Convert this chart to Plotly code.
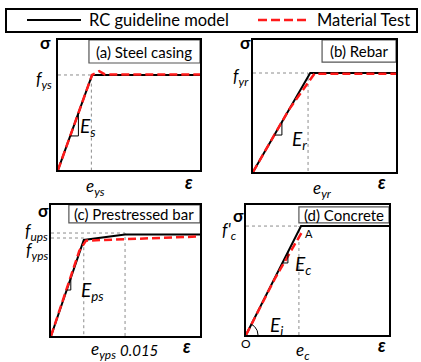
import plotly.graph_objects as go
import numpy as np

W, H = 421, 362
FONT = "Lato"
RED = "#ff1a1a"

# ---------------- data (normalised strain / stress of each schematic) ----------------
# (a) Steel casing
a_model_x = [0, 0.24, 1.0]
a_model_y = [0, 0.731, 0.731]
a_test_x = [0, 0.24, 0.29, 0.33, 1.0]
a_test_y = [0, 0.731, 0.76, 0.735, 0.735]
# (b) Rebar
b_model_x = [0, 0.40, 1.0]
b_model_y = [0, 0.75, 0.75]
b_test_x = [0, 0.25, 0.43, 1.0]
b_test_y = [0, 0.47, 0.745, 0.745]
# (c) Prestressed bar
c_model_x = [0, 0.22, 0.497, 1.0]
c_model_y = [0, 0.733, 0.775, 0.775]
c_test_x = [0, 0.19, 0.235, 1.0]
c_test_y = [0, 0.65, 0.728, 0.76]
# (d) Concrete
d_model_x = [0, 0.385, 1.0]
d_model_y = [0, 0.838, 0.838]
d_test_x = [0, 0.2, 0.39]
d_test_y = [0, 0.43, 0.79]

# characteristic points (strain, stress)
a_ey, a_fy = 0.235, 0.731
b_ey, b_fy = 0.385, 0.75
c_ey, c_fy, c_e15, c_fu = 0.22, 0.748, 0.497, 0.786
d_ec, d_fc = 0.37, 0.838

# slope triangle stress levels (bottom, top)
a_tri = (0.262, 0.438)
b_tri = (0.28, 0.379)
c_tri = (0.351, 0.443)
d_tri = (0.554, 0.638)

titles = ["(a) Steel casing", "(b) Rebar", "(c) Prestressed bar", "(d) Concrete"]
# title boxes in axis units (x0, x1, y0, y1)
title_boxes = [(0.218, 1.0, 0.823, 1.0), (0.483, 1.0, 0.833, 1.0),
               (0.12, 1.0, 0.863, 1.0), (0.37, 1.0, 0.862, 0.985)]

# panel boxes in pixels (left, right, top, bottom)
panels = [(58, 200, 40, 170), (253, 396, 40, 172), (51, 200, 205, 336), (246, 389, 205, 335)]

def px(x, y):
    return x / W, 1 - y / H

fig = go.Figure()
layout_axes = {}
for i, (l, r, t, b) in enumerate(panels):
    n = "" if i == 0 else str(i + 1)
    ax = dict(domain=[l / W, r / W], range=[0, 1], showgrid=False, zeroline=False,
              showticklabels=False, ticks="", showline=True, mirror=True,
              linecolor="black", linewidth=2, fixedrange=True)
    ay = dict(domain=[1 - b / H, 1 - t / H], range=[0, 1], showgrid=False, zeroline=False,
              showticklabels=False, ticks="", showline=True, mirror=True,
              linecolor="black", linewidth=2, fixedrange=True)
    ax["anchor"] = "y" + n
    ay["anchor"] = "x" + n
    layout_axes["xaxis" + n] = ax
    layout_axes["yaxis" + n] = ay

def ref(i):
    n = "" if i == 0 else str(i + 1)
    return "x" + n, "y" + n

DOT = dict(color="#8c8c8c", width=1, dash="dot")

def dotted(i, xs, ys):
    xr, yr = ref(i)
    fig.add_trace(go.Scatter(x=xs, y=ys, mode="lines", line=DOT, xaxis=xr, yaxis=yr,
                             showlegend=False, hoverinfo="skip"))

def curve(i, xs, ys, model):
    xr, yr = ref(i)
    if model:
        line = dict(color="black", width=2)
    else:
        line = dict(color=RED, width=2.5, dash="8px,4px")
    fig.add_trace(go.Scatter(x=xs, y=ys, mode="lines", line=line, xaxis=xr, yaxis=yr,
                             showlegend=False, hoverinfo="skip"))

def triangle(i, mx, my, lev):
    xr, yr = ref(i)
    slope = my[1] / mx[1]
    y0, y1 = lev
    x0, x1 = y0 / slope, y1 / slope
    fig.add_trace(go.Scatter(x=[x0, x1, x1], y=[y0, y0, y1], mode="lines",
                             line=dict(color="black", width=1), xaxis=xr, yaxis=yr,
                             showlegend=False, hoverinfo="skip"))

# dotted guides
dotted(0, [0, a_ey, a_ey], [a_fy, a_fy, 0])
dotted(1, [0, b_ey, b_ey], [b_fy, b_fy, 0])
dotted(2, [0, c_e15, c_e15], [c_fu, c_fu, 0])
dotted(2, [0, c_ey, c_ey], [c_fy, c_fy, 0])
dotted(3, [0, d_model_x[1]], [d_fc, d_fc])
dotted(3, [d_ec, d_ec], [0, d_fc])

# curves
curve(0, a_model_x, a_model_y, True)
curve(0, a_test_x, a_test_y, False)
curve(1, b_model_x, b_model_y, True)
curve(1, b_test_x, b_test_y, False)
curve(2, c_model_x, c_model_y, True)
curve(2, c_test_x, c_test_y, False)
curve(3, d_model_x, d_model_y, True)
curve(3, d_test_x, d_test_y, False)

triangle(0, a_model_x, a_model_y, a_tri)
triangle(1, b_model_x, b_model_y, b_tri)
triangle(2, c_model_x, c_model_y, c_tri)
triangle(3, d_model_x, d_model_y, d_tri)

# Ei arc in panel d
l, r, t, b = panels[3]
ang = np.arctan2(d_model_y[1] * (b - t), d_model_x[1] * (r - l))
tt = np.linspace(0, ang, 20)
rad = 12
fig.add_trace(go.Scatter(x=rad * np.cos(tt) / (r - l), y=rad * np.sin(tt) / (b - t), mode="lines",
                         line=dict(color="black", width=1), xaxis="x4", yaxis="y4",
                         showlegend=False, hoverinfo="skip"))

shapes = []
annotations = []

# title boxes
for i, (x0, x1, y0, y1) in enumerate(title_boxes):
    xr, yr = ref(i)
    shapes.append(dict(type="rect", xref=xr, yref=yr, x0=x0, x1=x1, y0=y0, y1=y1,
                       line=dict(color="#555555", width=1.2), fillcolor="white", layer="below"))
    annotations.append(dict(xref=xr, yref=yr, x=(x0 + x1) / 2, y=(y0 + y1) / 2, text=titles[i],
                            showarrow=False, font=dict(family=FONT, size=15, color="black"),
                            xanchor="center", yanchor="middle"))

def ptext(x, y, text, size=16, **kw):
    xx, yy = px(x, y)
    d = dict(xref="paper", yref="paper", x=xx, y=yy, text=text, showarrow=False,
             font=dict(family=FONT, size=size, color="black"), xanchor="center", yanchor="middle")
    d.update(kw)
    annotations.append(d)

def atext(i, x, y, text, size=16, **kw):
    xr, yr = ref(i)
    d = dict(xref=xr, yref=yr, x=x, y=y, text=text, showarrow=False,
             font=dict(family=FONT, size=size, color="black"), xanchor="center", yanchor="middle")
    d.update(kw)
    annotations.append(d)

SIG = "<b>σ</b>"
EPS = "<b><i>ε</i></b>"
# (a)
ptext(45, 43, SIG, 17)
atext(0, 0, a_fy, "<i>f</i><sub><i>ys</i></sub>", 17, xanchor="right", xshift=-4, yshift=-5)
atext(0, a_ey, 0, "<i>e</i><sub><i>ys</i></sub>", 17, yanchor="top", xshift=4, yshift=-3)
ptext(189, 182, EPS, 18)
ptext(88, 127, "<i>E</i><sub><i>s</i></sub>", 19)
# (b)
ptext(245, 43, SIG, 17)
atext(1, 0, b_fy, "<i>f</i><sub><i>yr</i></sub>", 17, xanchor="right", xshift=-2, yshift=-4)
atext(1, b_ey, 0, "<i>e</i><sub><i>yr</i></sub>", 17, yanchor="top", xshift=14, yshift=-3)
ptext(382, 182, EPS, 18)
ptext(299, 140, "<i>E</i><sub><i>r</i></sub>", 19)
# (c)
ptext(43, 210, SIG, 17)
atext(2, 0, c_fu, "<i>f</i><sub><i>ups</i></sub>", 17, xanchor="right", xshift=-1, yshift=1)
atext(2, 0, c_fy, "<i>f</i><sub><i>yps</i></sub>", 17, xanchor="right", xshift=-1, yshift=-13)
ptext(103, 350, "<i>e</i><sub><i>yps</i></sub>", 17)
ptext(139, 350, "<i>0.015</i>", 15)
ptext(187, 346, EPS, 18)
ptext(92, 291, "<i>E</i><sub><i>ps</i></sub>", 19)
# (d)
ptext(238, 215, SIG, 17)
atext(3, 0, d_fc, "<i>f'</i><sub><i>c</i></sub>", 17, xanchor="right", xshift=-7, yshift=-5)
ptext(246, 343, "O", 12)
ptext(309, 233, "A", 11)
atext(3, d_ec, 0, "<i>e</i><sub><i>c</i></sub>", 17, yanchor="top", xshift=4, yshift=-2)
ptext(382, 345, EPS, 18)
ptext(303, 265, "<i>E</i><sub><i>c</i></sub>", 19)
ptext(276, 326, "<i>E</i><sub><i>i</i></sub>", 19)

# legend box
x0, y0 = px(6, 9)
x1, y1 = px(417, 32)
shapes.append(dict(type="rect", xref="paper", yref="paper", x0=x0, x1=x1, y0=y1, y1=y0,
                   line=dict(color="black", width=2)))
lx0, ly = px(27, 20)
lx1, _ = px(81, 20)
shapes.append(dict(type="line", xref="paper", yref="paper", x0=lx0, x1=lx1, y0=ly, y1=ly,
                   line=dict(color="black", width=2)))
rx0, _ = px(258, 20)
rx1, _ = px(306, 20)
shapes.append(dict(type="line", xref="paper", yref="paper", x0=rx0, x1=rx1, y0=ly, y1=ly,
                   line=dict(color=RED, width=2.5, dash="9px,4px")))
ptext(87, 20, "RC guideline model", 16.5, xanchor="left")
ptext(315, 20, "Material Test", 16.5, xanchor="left")

fig.update_layout(width=W, height=H, margin=dict(l=0, r=0, t=0, b=0),
                  paper_bgcolor="white", plot_bgcolor="white",
                  shapes=shapes, annotations=annotations, showlegend=False,
                  **layout_axes)
fig.write_html("out.html", config={"displayModeBar": False},
               post_script="document.body.style.margin='0px';document.body.style.overflow='hidden';")
